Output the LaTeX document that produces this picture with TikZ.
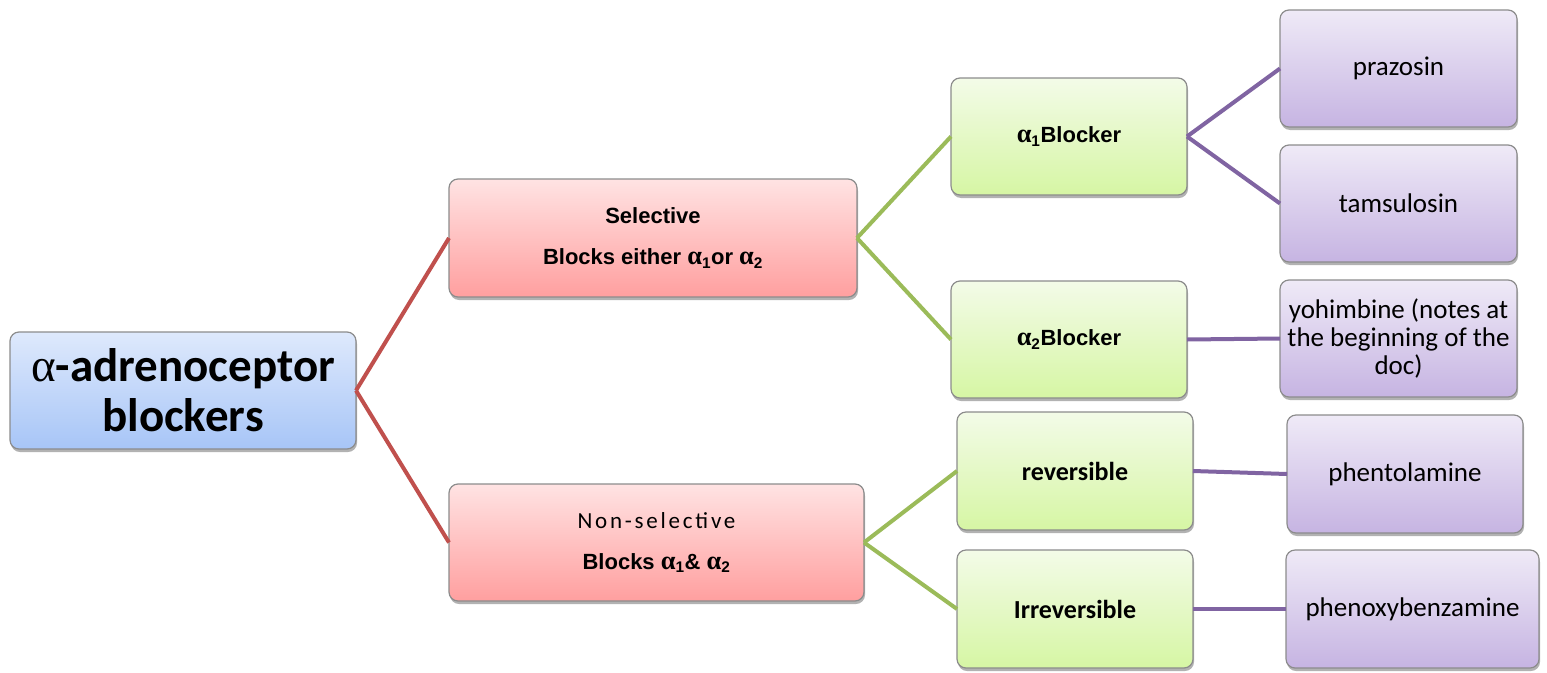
\documentclass[tikz,border=0pt]{standalone}
\usepackage{fontspec}
\setmainfont{Carlito}
\newfontfamily\arialf{Liberation Sans}
\newfontfamily\greekf{Liberation Serif}
\newfontfamily\spacedf{Carlito}[LetterSpace=12]
\usetikzlibrary{shadows}
\newcommand\alp{\scalebox{1.2}{\greekf α}}
\definecolor{boxborder}{HTML}{8C8C8C}
\definecolor{blueT}{HTML}{DEE9FC}
\definecolor{blueB}{HTML}{A7C5F7}
\definecolor{pinkT}{HTML}{FFE3E3}
\definecolor{pinkB}{HTML}{FF9F9F}
\definecolor{greenT}{HTML}{F3FBE8}
\definecolor{greenB}{HTML}{D6F6A4}
\definecolor{purpT}{HTML}{EFEAF7}
\definecolor{purpB}{HTML}{C6B4E2}
\definecolor{redL}{HTML}{C0504D}
\definecolor{greenL}{HTML}{9BBB59}
\definecolor{purpL}{HTML}{8064A2}
\begin{document}
\begin{tikzpicture}[x=1pt,y=-1pt,
  box/.style={draw=boxborder, line width=1.2pt, rounded corners=9pt, outer sep=0pt,
    inner sep=2pt, align=center,
    drop shadow={shadow xshift=1pt, shadow yshift=-3pt, opacity=0.3, fill=black}},
  bluebox/.style={box, top color=blueT, bottom color=blueB},
  pinkbox/.style={box, top color=pinkT, bottom color=pinkB},
  greenbox/.style={box, top color=greenT, bottom color=greenB},
  purpbox/.style={box, top color=purpT, bottom color=purpB},
  conn/.style={line width=4pt},
  redconn/.style={conn, draw=redL},
  greenconn/.style={conn, draw=greenL},
  purpconn/.style={conn, draw=purpL},
  drugtext/.style={font=\fontsize{27}{28}\selectfont},
  arialtext/.style={font=\arialf\bfseries\fontsize{22}{41}\selectfont},
  calbtext/.style={font=\bfseries\fontsize{26}{30}\selectfont}
]
\useasboundingbox[fill=white] (0,0) rectangle (1547,672);

% level 0
\node[bluebox, minimum width=346pt, minimum height=117pt,
  font=\bfseries\fontsize{47}{50}\selectfont] (root) at (183,390.5)
  {{\mdseries\greekf α}-adrenoceptor\\blockers};

% level 1
\node[pinkbox, arialtext, minimum width=408pt, minimum height=118pt] (sel) at (653,238)
  {Selective\\Blocks either \alp\textsubscript{1}or \alp\textsubscript{2}};
\node[pinkbox, arialtext, minimum width=415pt, minimum height=117pt] (nonsel) at (656.5,542.5)
  {{\spacedf\mdseries\fontsize{23}{41}\selectfont Non-selective}\\Blocks \alp\textsubscript{1}\& \alp\textsubscript{2}};

% level 2
\node[greenbox, arialtext, minimum width=236pt, minimum height=117pt] (a1) at (1069,136.5)
  {\alp\textsubscript{1}Blocker};
\node[greenbox, arialtext, minimum width=236pt, minimum height=117pt] (a2) at (1069,339.5)
  {\alp\textsubscript{2}Blocker};
\node[greenbox, calbtext, minimum width=236pt, minimum height=118pt] (rev) at (1075,471)
  {reversible};
\node[greenbox, calbtext, minimum width=236pt, minimum height=118pt] (irrev) at (1075,609)
  {Irreversible};

% level 3
\node[purpbox, drugtext, minimum width=237pt, minimum height=117pt] (praz) at (1398.5,68.5)
  {prazosin};
\node[purpbox, drugtext, minimum width=237pt, minimum height=117pt] (tams) at (1398.5,203.5)
  {tamsulosin};
\node[purpbox, drugtext, minimum width=237pt, minimum height=117pt] (yoh) at (1398.5,338.5)
  {yohimbine (notes at\\the beginning of the\\doc)};
\node[purpbox, drugtext, minimum width=236pt, minimum height=118pt] (phent) at (1405,474)
  {phentolamine};
\node[purpbox, drugtext, minimum width=253pt, minimum height=118pt] (phenoxy) at (1412.5,609)
  {phenoxybenzamine};

% connectors
\draw[redconn] (root.east) -- (sel.west);
\draw[redconn] (root.east) -- (nonsel.west);
\draw[greenconn] (sel.east) -- (a1.west);
\draw[greenconn] (sel.east) -- (a2.west);
\draw[greenconn] (nonsel.east) -- (rev.west);
\draw[greenconn] (nonsel.east) -- (irrev.west);
\draw[purpconn] (a1.east) -- (praz.west);
\draw[purpconn] (a1.east) -- (tams.west);
\draw[purpconn] (a2.east) -- (yoh.west);
\draw[purpconn] (rev.east) -- (phent.west);
\draw[purpconn] (irrev.east) -- (phenoxy.west);
\end{tikzpicture}
\end{document}
